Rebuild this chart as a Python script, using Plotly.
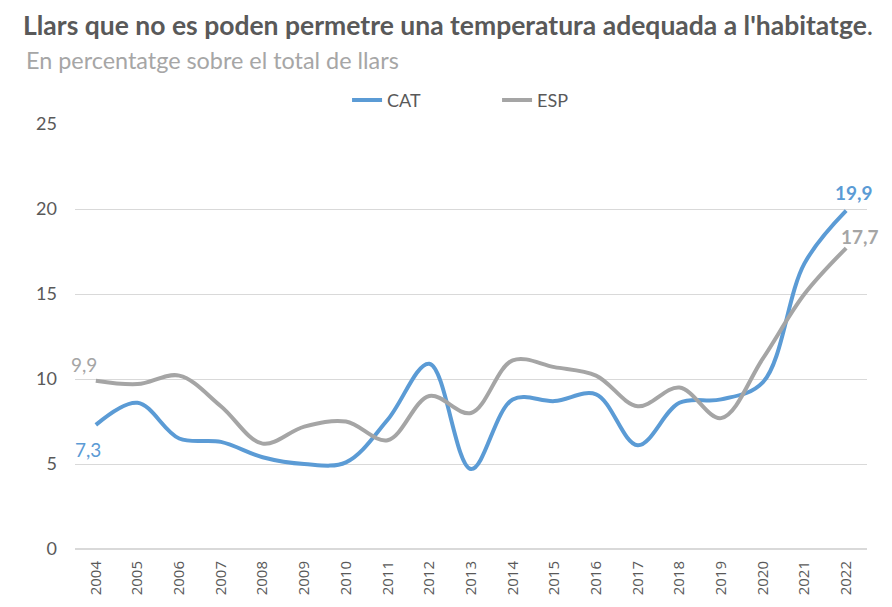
import plotly.graph_objects as go

YEARS = list(range(2004, 2023))
CAT = [7.3, 8.6, 6.5, 6.3, 5.4, 5.0, 5.1, 7.6, 10.9, 4.7, 8.8, 8.7, 9.1, 6.1, 8.6, 8.8, 9.8, 16.8, 19.9]
ESP = [9.9, 9.7, 10.2, 8.4, 6.2, 7.2, 7.5, 6.4, 9.0, 8.0, 11.1, 10.7, 10.2, 8.4, 9.5, 7.7, 11.2, 15.0, 17.7]

BLUE = "#5B9BD5"
GREY = "#A5A5A5"
FONT = "Lato, 'Open Sans', sans-serif"


def fmt(v):
    return f"{v:.1f}".replace(".", ",")


fig = go.Figure()
for name, vals, color in [("CAT", CAT, BLUE), ("ESP", ESP, GREY)]:
    fig.add_trace(go.Scatter(
        x=YEARS, y=vals, name=name, mode="lines",
        line=dict(color=color, width=4, shape="spline", smoothing=1),
    ))

# etiquetes inicial i final
fig.add_annotation(x=YEARS[0], y=CAT[0], text=fmt(CAT[0]), showarrow=False,
                   xshift=-8, yshift=-25, font=dict(color=BLUE, size=19, family=FONT))
fig.add_annotation(x=YEARS[0], y=ESP[0], text=fmt(ESP[0]), showarrow=False,
                   xshift=-12, yshift=16, font=dict(color=GREY, size=19, family=FONT))
fig.add_annotation(x=YEARS[-1], y=CAT[-1], text=f"<b>{fmt(CAT[-1])}</b>", showarrow=False,
                   xshift=8, yshift=18, font=dict(color=BLUE, size=19, family=FONT))
fig.add_annotation(x=YEARS[-1], y=ESP[-1], text=f"<b>{fmt(ESP[-1])}</b>", showarrow=False,
                   xshift=14, yshift=12, font=dict(color=GREY, size=19, family=FONT))

fig.update_layout(
    width=892, height=607,
    paper_bgcolor="white", plot_bgcolor="white",
    margin=dict(l=67, r=33, t=116, b=66, autoexpand=False),
    font=dict(family=FONT, size=16, color="#595959"),
    title=dict(
        text="<b>Llars que no es poden permetre una temperatura adequada a l'habitatge</b>.",
        x=15 / 892, xanchor="left", y=1 - 17.5 / 607, yanchor="middle",
        font=dict(size=26.5, color="#595959", family=FONT),
    ),
    legend=dict(orientation="h", x=0.3435, xanchor="left", y=1.056, yanchor="middle",
                entrywidth=105, entrywidthmode="pixels",
                font=dict(size=18, color="#595959", family=FONT)),
    showlegend=True,
)
fig.add_annotation(text="En percentatge sobre el total de llars", xref="paper", yref="paper",
                   x=-0.0644, y=1.151, xanchor="left", yanchor="middle", showarrow=False,
                   font=dict(size=23.4, color="#A6A6A6", family=FONT))

fig.update_xaxes(range=[2003.5, 2022.5], tickmode="array", tickvals=YEARS,
                 ticktext=[str(y) for y in YEARS], tickangle=-90, showgrid=False,
                 showline=False, zeroline=False, ticks="", ticklabelstandoff=8,
                 tickfont=dict(family="Open Sans", size=15, color="#595959"))
fig.update_yaxes(range=[0, 25], dtick=5, showgrid=True, gridcolor="#D9D9D9", gridwidth=1,
                 zeroline=True, zerolinecolor="#D9D9D9", ticks="", ticklabelstandoff=17,
                 tickfont=dict(size=18, color="#595959"))

fig.write_html("out.html")
